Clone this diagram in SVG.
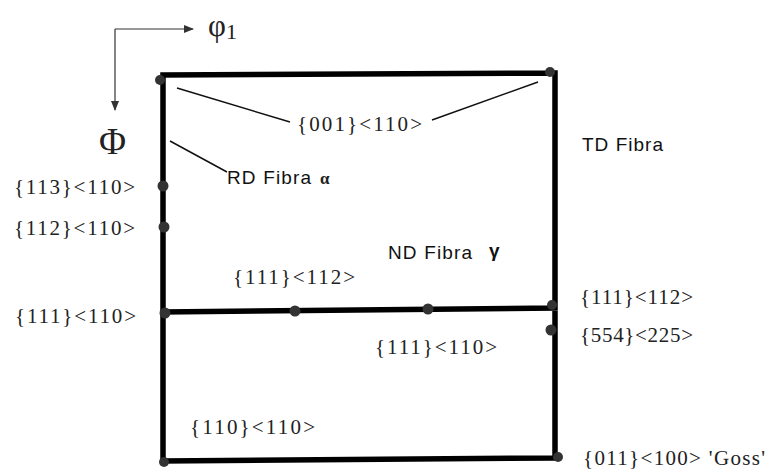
<svg xmlns="http://www.w3.org/2000/svg" width="773" height="472" viewBox="0 0 773 472">
<defs>
<marker id="ah" markerWidth="10" markerHeight="8" refX="9" refY="4" orient="auto" markerUnits="userSpaceOnUse">
<path d="M0,0 L10,4 L0,8 Z" fill="#333"/>
</marker>
<style>
.frame{stroke:#000;stroke-width:5.5;fill:none;stroke-linecap:square}
.lead{stroke:#111;stroke-width:1.5;fill:none}
.ax{stroke:#333;stroke-width:1.2;fill:none}
.dot{fill:#333}
.t{font-family:"Liberation Serif","Times New Roman",serif;font-size:21px;fill:#222}
.s{font-family:"Liberation Sans",Arial,sans-serif;font-size:19px;fill:#111}
.g{font-family:"Liberation Serif","Times New Roman",serif;fill:#222}
</style>
</defs>
<rect width="773" height="472" fill="#fff"/>
<g id="axes">
<path class="ax" d="M115,29 H193" marker-end="url(#ah)"/>
<path class="ax" d="M115,29 V110" marker-end="url(#ah)"/>
<text class="g" x="208" y="36" font-size="31">φ<tspan font-size="22" dy="3">1</tspan></text>
<text class="g" x="99" y="154" font-size="37">Φ</text>
</g>
<g id="connectors">
<path class="frame" d="M163,75 L553,73 M163,75 V461 M555,73 V458 M163,461 L555,458 M163,312 L555,308"/>
<path class="lead" d="M177,88 L290,122 M432,120 L538,82 M170,141 L227,172"/>
</g>
<g id="n001"><circle class="dot" cx="160" cy="80" r="5"/><circle class="dot" cx="550" cy="72" r="5"/><text class="t" x="297" y="131" textLength="125">{001}&lt;110&gt;</text></g>
<g id="rd"><text class="s" x="227" y="184" textLength="84">RD Fibra</text><text class="g" x="320" y="184" font-size="17" font-weight="bold">α</text></g>
<g id="td"><text class="s" x="582" y="151" textLength="81">TD Fibra</text></g>
<g id="nd"><text class="s" x="388" y="259" textLength="84">ND Fibra</text><text class="s" x="489" y="257" font-size="15" font-weight="bold">γ</text></g>
<g id="n113"><circle class="dot" cx="163" cy="186" r="5.5"/><text class="t" x="14" y="194" textLength="121">{113}&lt;110&gt;</text></g>
<g id="n112"><circle class="dot" cx="164" cy="227" r="5.5"/><text class="t" x="14" y="235" textLength="121">{112}&lt;110&gt;</text></g>
<g id="n111a"><circle class="dot" cx="165" cy="313" r="5.5"/><text class="t" x="15" y="323" textLength="121">{111}&lt;110&gt;</text></g>
<g id="n111b"><circle class="dot" cx="295" cy="311" r="5.5"/><text class="t" x="233" y="284" textLength="122">{111}&lt;112&gt;</text></g>
<g id="n111c"><circle class="dot" cx="428" cy="309" r="5.5"/><text class="t" x="375" y="354" textLength="122">{111}&lt;110&gt;</text></g>
<g id="n111d"><circle class="dot" cx="552" cy="305" r="5"/><text class="t" x="580" y="304" textLength="113">{111}&lt;112&gt;</text></g>
<g id="n554"><circle class="dot" cx="551" cy="330" r="5.5"/><text class="t" x="580" y="342" textLength="113">{554}&lt;225&gt;</text></g>
<g id="n110"><circle class="dot" cx="164" cy="462" r="5"/><text class="t" x="190" y="434" textLength="125">{110}&lt;110&gt;</text></g>
<g id="goss"><circle class="dot" cx="558" cy="457" r="5"/><text class="t" x="583" y="465" textLength="182">{011}&lt;100&gt; 'Goss'</text></g>
</svg>
